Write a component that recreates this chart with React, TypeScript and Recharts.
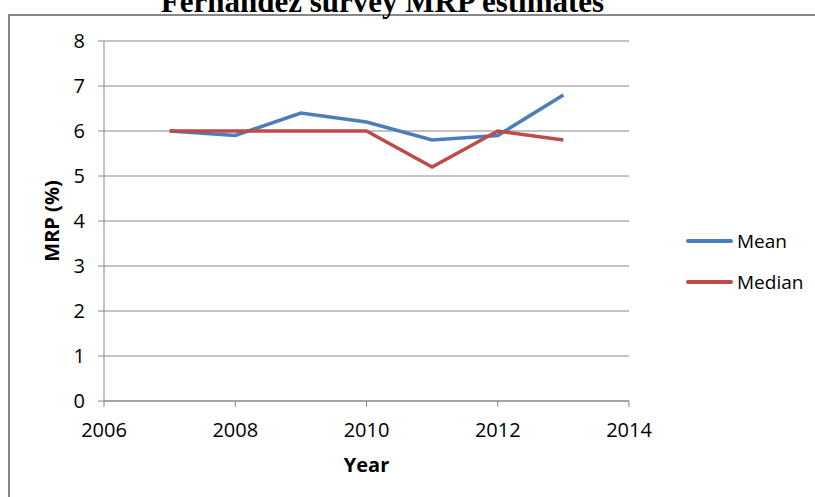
import React from 'react';
import { LineChart, Line, XAxis, YAxis, CartesianGrid, Legend, Label } from 'recharts';

const years = [2007, 2008, 2009, 2010, 2011, 2012, 2013];
const meanValues = [6.0, 5.9, 6.4, 6.2, 5.8, 5.9, 6.8];
const medianValues = [6.0, 6.0, 6.0, 6.0, 5.2, 6.0, 5.8];
const xTicks = [2006, 2008, 2010, 2012, 2014];
const yTicks = [0, 1, 2, 3, 4, 5, 6, 7, 8];

const data = years.map((year, i) => ({ year, mean: meanValues[i], median: medianValues[i] }));

const font = '"Open Sans", sans-serif';

const renderLegend = (props: any) => {
  const { payload } = props;
  return (
    <div style={{ fontFamily: font, fontSize: 19, color: '#000' }}>
      {(payload || []).map((entry: any) => (
        <div key={entry.value} style={{ display: 'flex', alignItems: 'center', height: 41 }}>
          <div style={{ width: 47, height: 4, borderRadius: 2, background: entry.color, marginRight: 4 }} />
          <span>{entry.value}</span>
        </div>
      ))}
    </div>
  );
};

export default function App() {
  return (
    <div style={{ position: 'absolute', left: 0, top: 0, width: 815, height: 497, background: '#fff', overflow: 'hidden' }}>
      <div
        style={{
          position: 'absolute',
          left: 8,
          top: 14,
          width: 820,
          height: 500,
          borderTop: '2px solid #888',
          borderLeft: '2px solid #888',
        }}
      />
      <div
        style={{
          position: 'absolute',
          left: 0,
          width: 765,
          top: -14,
          textAlign: 'center',
          fontFamily: '"Liberation Serif", serif',
          fontWeight: 'bold',
          fontSize: 31,
          lineHeight: '31px',
          color: '#000',
          whiteSpace: 'nowrap',
        }}
      >
        Fernandez survey MRP estimates
      </div>
      <div style={{ position: 'absolute', left: 0, top: 0 }}>
        <LineChart width={815} height={497} data={data} margin={{ top: 41, right: 56, left: 0, bottom: 0 }}>
          <CartesianGrid vertical={false} stroke="#888" />
          <XAxis
            dataKey="year"
            type="number"
            domain={[2006, 2014]}
            ticks={xTicks}
            height={96}
            stroke="#888"
            tickSize={6}
            tickMargin={16}
            tick={{ fill: '#000', fontSize: 20, fontFamily: font }}
          >
            <Label value="Year" position="insideTop" offset={57} style={{ fill: '#000', fontSize: 20, fontWeight: 'bold', fontFamily: font }} />
          </XAxis>
          <YAxis
            domain={[0, 8]}
            ticks={yTicks}
            width={104}
            stroke="#888"
            tickSize={6}
            tickMargin={13}
            tick={{ fill: '#000', fontSize: 20, fontFamily: font }}
          >
            <Label value="MRP (%)" angle={-90} position="center" style={{ fill: '#000', fontSize: 20, fontWeight: 'bold', fontFamily: font }} />
          </YAxis>
          <Legend
            layout="vertical"
            verticalAlign="top"
            align="right"
            content={renderLegend}
            wrapperStyle={{ left: 686, top: 220, width: 130 }}
          />
          <Line
            type="linear"
            dataKey="mean"
            name="Mean"
            stroke="#4a7ebb"
            strokeWidth={3.5}
            dot={false}
            isAnimationActive={false}
          />
          <Line
            type="linear"
            dataKey="median"
            name="Median"
            stroke="#be4b48"
            strokeWidth={3.5}
            dot={false}
            isAnimationActive={false}
          />
        </LineChart>
      </div>
    </div>
  );
}
